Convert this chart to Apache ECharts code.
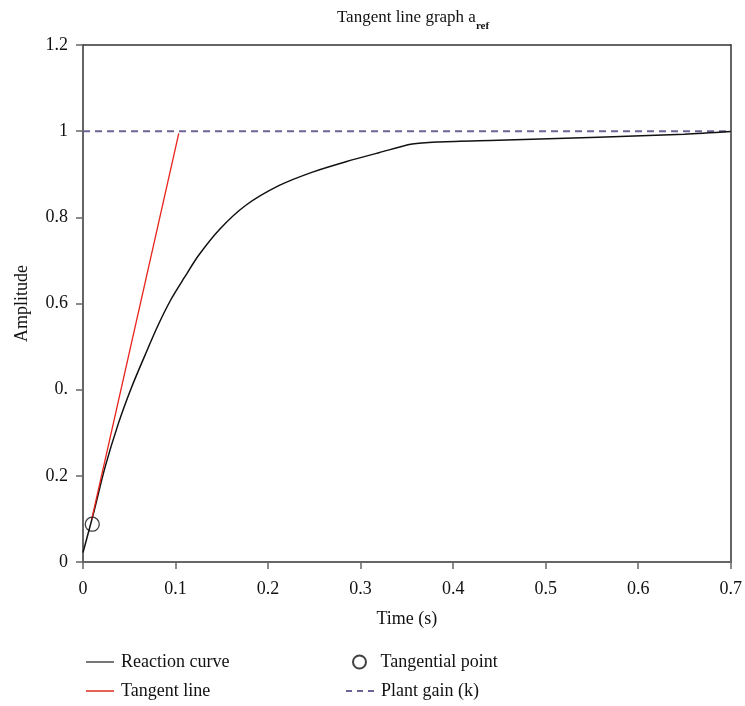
<!DOCTYPE html>
<html><head><meta charset="utf-8">
<script src="https://cdn.jsdelivr.net/npm/echarts@6/dist/echarts.min.js"></script>
<style>html,body{margin:0;padding:0;background:#fff}#c{width:745px;height:706px}</style>
</head><body><div id="c"></div>
<script>
const xTicks = [0, 0.1, 0.2, 0.3, 0.4, 0.5, 0.6, 0.7];
const yTickLabels = {'0': '0', '0.2': '0.2', '0.4': '0.', '0.6': '0.6', '0.8': '0.8', '1': '1', '1.2': '1.2'};
const curveX = [0, 0.0111, 0.0237, 0.038, 0.0524, 0.0668, 0.081, 0.0955, 0.1098, 0.125, 0.1475, 0.176, 0.2121, 0.248, 0.284, 0.3198, 0.3557, 0.3845, 0.449, 0.557, 0.65, 0.7];
const curveY = [0.022, 0.111, 0.219, 0.32, 0.405, 0.479, 0.549, 0.611, 0.661, 0.712, 0.772, 0.828, 0.874, 0.905, 0.929, 0.95, 0.970, 0.975, 0.979, 0.986, 0.993, 0.999];
const tangentX = [0.0095, 0.1035];
const tangentY = [0.100, 0.995];
const pointX = [0.010];
const pointY = [0.0877];
const gainX = [0, 0.7];
const gainY = [1, 1];

const zip = (a, b) => a.map((v, i) => [v, b[i]]);
const font = 'Liberation Serif';
const legText = {fontFamily: font, fontSize: 18, color: '#111', padding: [0, 0, 0, 2]};
const legendAt = (left, top, item, h) => ({left, top, padding: 0, itemWidth: 28, itemHeight: h || 12, textStyle: legText, data: [item]});
const chart = echarts.init(document.getElementById('c'));
chart.setOption({
  animation: false,
  textStyle: {fontFamily: font},
  title: {
    text: '{m|Tangent line graph a}{s|ref}',
    left: 408, top: 4, textAlign: 'center',
    textStyle: {rich: {
      m: {fontFamily: font, fontSize: 17, color: '#111', fontWeight: 'normal', verticalAlign: 'top', lineHeight: 22},
      s: {fontFamily: font, fontSize: 11, color: '#111', verticalAlign: 'top', lineHeight: 22, padding: [12, 0, 0, 0]}
    }}
  },
  grid: {left: 83, right: 12, top: 45, bottom: 144},
  legend: [
    legendAt(85, 653, {name: 'Reaction curve', itemStyle: {opacity: 0}, lineStyle: {color: '#777', width: 2}}),
    legendAt(85, 682, {name: 'Tangent line', itemStyle: {opacity: 0}, lineStyle: {color: '#e8625a', width: 2}}),
    legendAt(352, 653, {name: 'Tangential point'}, 13),
    legendAt(345, 682, {name: 'Plant gain (k)', itemStyle: {opacity: 0}, lineStyle: {color: '#6a6594', width: 2, type: [6, 5]}})
  ],
  xAxis: [{
    type: 'value', min: 0, max: 0.7, interval: 0.1,
    name: 'Time (s)', nameLocation: 'middle', nameGap: 48,
    nameTextStyle: {fontFamily: font, fontSize: 18, color: '#111'},
    axisLine: {lineStyle: {color: '#666', width: 2}},
    axisTick: {show: true, length: 7, lineStyle: {color: '#666', width: 1.5}},
    axisLabel: {fontFamily: font, fontSize: 18, color: '#111', margin: 18,
      formatter: v => String(Math.round(v * 10) / 10)},
    splitLine: {show: false}
  }, {
    type: 'value', position: 'top', min: 0, max: 0.7,
    axisLine: {show: true, onZero: false, lineStyle: {color: '#333', width: 1.5}},
    axisTick: {show: false}, axisLabel: {show: false}, splitLine: {show: false}
  }],
  yAxis: [{
    type: 'value', min: 0, max: 1.2, interval: 0.2,
    name: 'Amplitude', nameLocation: 'middle', nameGap: 52, nameRotate: 90,
    nameTextStyle: {fontFamily: font, fontSize: 18, color: '#111'},
    axisLine: {show: true, lineStyle: {color: '#666', width: 2}},
    axisTick: {show: true, length: 7, lineStyle: {color: '#666', width: 1.5}},
    axisLabel: {fontFamily: font, fontSize: 18, color: '#111', margin: 15,
      formatter: v => yTickLabels[String(Math.round(v * 10) / 10)] ?? String(v)},
    splitLine: {show: false}
  }, {
    type: 'value', position: 'right', min: 0, max: 1.2,
    axisLine: {show: true, onZero: false, lineStyle: {color: '#666', width: 2}},
    axisTick: {show: false}, axisLabel: {show: false}, splitLine: {show: false}
  }],
  series: [
    {name: 'Reaction curve', type: 'line', data: zip(curveX, curveY), smooth: 0.3,
     showSymbol: false, symbol: 'none', lineStyle: {color: '#111', width: 1.5},
     itemStyle: {color: '#777'}, z: 3},
    {name: 'Tangent line', type: 'line', data: zip(tangentX, tangentY),
     showSymbol: false, symbol: 'none', lineStyle: {color: '#e8231a', width: 1.3},
     itemStyle: {color: '#e8625a'}, z: 4},
    {name: 'Tangential point', type: 'scatter', data: zip(pointX, pointY),
     symbol: 'circle', symbolSize: 14,
     itemStyle: {color: 'rgba(0,0,0,0)', borderColor: '#111', borderWidth: 1.3}, z: 5},
    {name: 'Plant gain (k)', type: 'line', data: zip(gainX, gainY),
     showSymbol: false, symbol: 'none',
     lineStyle: {color: '#6a6594', width: 2, type: [7, 5]},
     itemStyle: {color: '#6a6594'}, z: 2}
  ]
});
</script></body></html>
